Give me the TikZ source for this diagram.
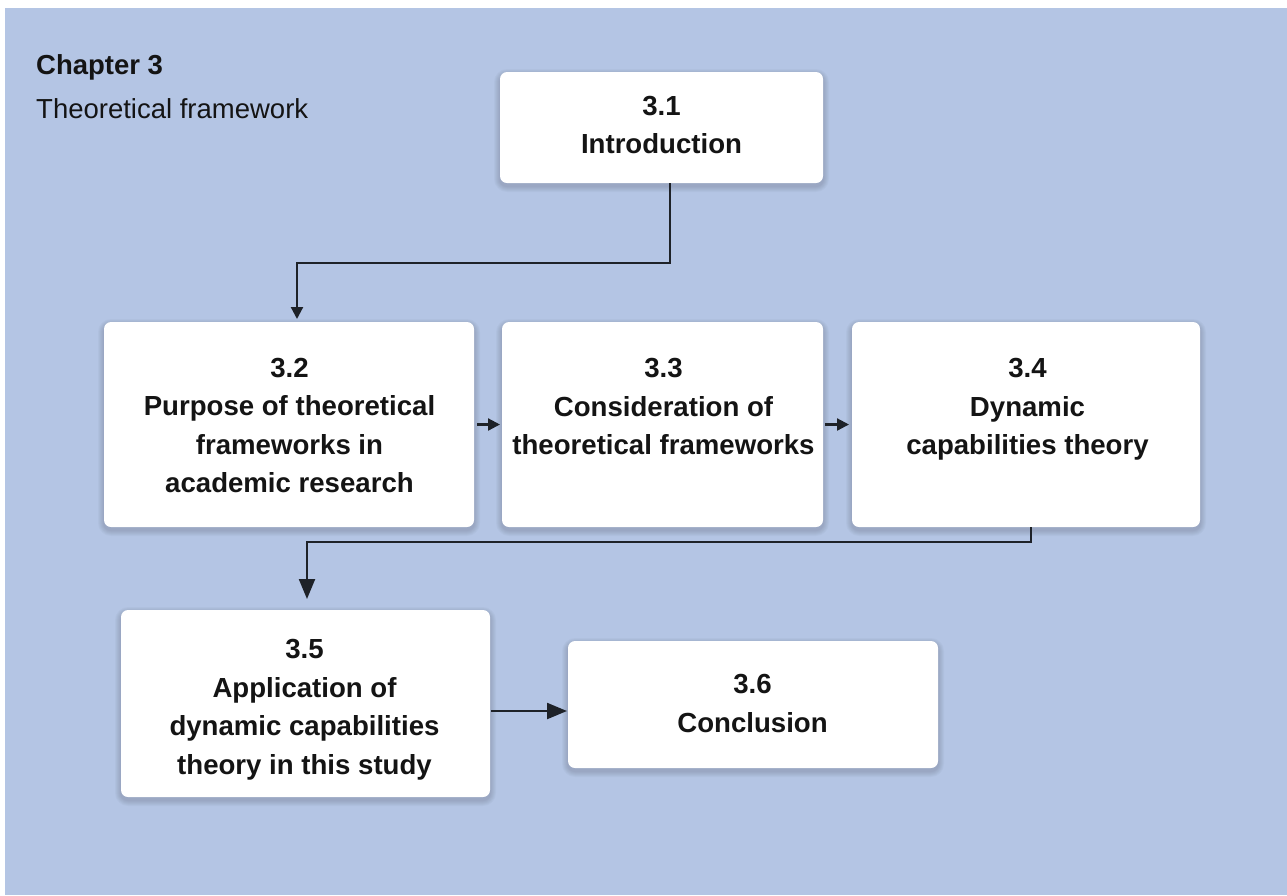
\documentclass[tikz,border=0pt]{standalone}
\usepackage{fontspec}
\setmainfont{Liberation Sans}
\usetikzlibrary{arrows.meta}
\definecolor{bgblue}{HTML}{B4C5E4}
\definecolor{ink}{HTML}{141414}
\definecolor{wire}{HTML}{1E2228}
\pgfdeclarelayer{panel}
\pgfdeclarelayer{shade}
\pgfsetlayers{panel,shade,main}
\begin{document}
\begin{tikzpicture}[x=1pt,y=-1pt,
  card/.style={fill=white, rounded corners=7pt, inner sep=0pt, outer sep=0pt},
  cardtext/.style={font=\fontsize{27.6}{38.5}\selectfont\bfseries, text=ink, align=center, inner sep=0pt},
  conn/.style={draw=wire, line width=2.2pt},
  smallhead/.style={-{Triangle[length=12pt,width=12pt]}},
  bighead/.style={-{Triangle[length=20pt,width=16pt]}}]
  % page and background panel
  \useasboundingbox (0,0) rectangle (1287,895);
  \begin{pgfonlayer}{panel}
    \fill[white] (0,0) rectangle (1287,895);
    \fill[bgblue] (5,8) rectangle (1287,895);
  \end{pgfonlayer}

  % heading
  \node[anchor=base west, inner sep=0pt, text=ink, font=\fontsize{27.5}{32}\selectfont\bfseries] (head) at (36,74) {Chapter 3};
  \node[anchor=base west, inner sep=0pt, text=ink, font=\fontsize{27.5}{32}\selectfont] (sub) at (36,118) {Theoretical framework};

  % section cards
  \node[card, minimum width=323pt, minimum height=111pt] (b1) at (661.5,127.5) {};
  \node[card, minimum width=370pt, minimum height=205pt] (b2) at (289,424.5) {};
  \node[card, minimum width=321pt, minimum height=205pt] (b3) at (662.5,424.5) {};
  \node[card, minimum width=348pt, minimum height=205pt] (b4) at (1026,424.5) {};
  \node[card, minimum width=369pt, minimum height=187pt] (b5) at (305.5,703.5) {};
  \node[card, minimum width=370pt, minimum height=127pt] (b6) at (753,704.5) {};

  % soft shadows under the cards
  \begin{pgfonlayer}{shade}
    \foreach \b in {b1,b2,b3,b4,b5,b6}{
      \foreach \r in {1,...,6}{
        \fill[black, opacity=0.022, rounded corners=7pt+\r pt]
          ([shift={(-\r,-\r+3)}]\b.north west) rectangle ([shift={(\r,\r+3)}]\b.south east);
      }
    }
  \end{pgfonlayer}

  % card labels
  \node[cardtext] (t1) at (661.5,125) {3.1\\Introduction};
  \node[cardtext] (t2) at (289.5,425.5) {3.2\\Purpose of theoretical\\frameworks in\\academic research};
  \node[cardtext] (t3) at (663.5,406.5) {3.3\\Consideration of\\theoretical frameworks};
  \node[cardtext] (t4) at (1027.5,409.5) {3.4\\Dynamic\\capabilities theory};
  \node[cardtext] (t5) at (304.5,709.5) {3.5\\Application of\\dynamic capabilities\\theory in this study};
  \node[cardtext] (t6) at (752.5,703.5) {3.6\\Conclusion};

  % routing points
  \coordinate (x1) at (670,0);
  \coordinate (k1) at (297,263);
  \coordinate (x2) at (1031,0);
  \coordinate (k2) at (307,542);
  \coordinate (y1) at (0,711);

  % connectors
  \draw[conn, smallhead, shorten >=3pt] (b1.south -| x1) |- (k1) -- (b2.north -| k1);
  \draw[conn, smallhead, shorten <=3pt, shorten >=2pt] (b2.east) -- (b3.west);
  \draw[conn, smallhead, shorten <=2pt, shorten >=3pt] (b3.east) -- (b4.west);
  \draw[conn, bighead, shorten >=11pt] (b4.south -| x2) |- (k2) -- (b5.north -| k2);
  \draw[conn, bighead, shorten <=1pt, shorten >=1pt] (b5.east |- y1) -- (b6.west |- y1);
\end{tikzpicture}
\end{document}
